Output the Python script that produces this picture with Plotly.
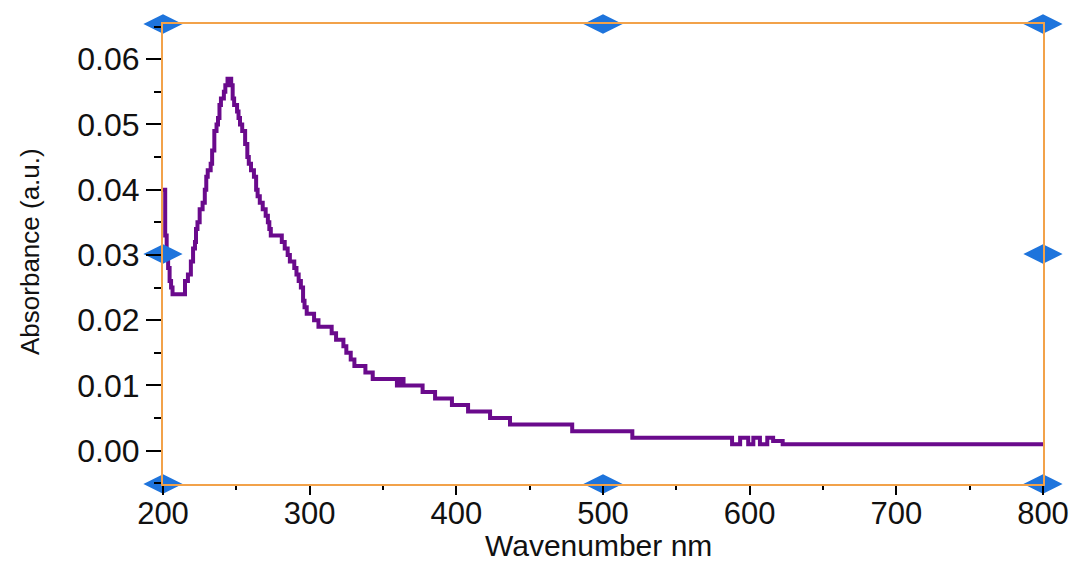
import plotly.graph_objects as go

# ---- data ----
wavelength = [200, 201.5, 202.5, 203.5, 204.5, 205.5, 206.5, 215, 217, 219, 220.5, 221.8,
              222.5, 223.5, 225, 227, 228.5, 229.5, 230.5, 232.5, 233.5, 235, 236.5, 237.5,
              238.5, 239.5, 241.5, 242.5, 244, 246.5, 247.5, 248.5, 250.5, 251.5, 252.5, 254,
              256, 257.5, 258.5, 260, 262, 263.5, 264.5, 266, 268, 270, 271.5, 272.5, 273.5,
              281, 283, 285, 286.5, 289.5, 291, 292.5, 294, 295.5, 296.5, 298, 303, 306, 315,
              318, 323, 325, 328, 330.5, 338, 343, 359.5, 360.5, 361.5, 362.5, 364, 377,
              385.5, 397, 408, 423, 436.6, 479, 520, 588, 593.5, 599, 602.5, 607, 612, 616,
              622.5, 800]
absorbance = [0.040, 0.033, 0.030, 0.028, 0.026, 0.025, 0.024, 0.026, 0.027, 0.029, 0.031, 0.032,
              0.034, 0.035, 0.037, 0.038, 0.040, 0.042, 0.043, 0.044, 0.046, 0.049, 0.050, 0.051,
              0.053, 0.054, 0.055, 0.056, 0.057, 0.056, 0.054, 0.053, 0.052, 0.051, 0.050, 0.049,
              0.047, 0.045, 0.044, 0.043, 0.042, 0.040, 0.039, 0.038, 0.037, 0.036, 0.035, 0.034, 0.033,
              0.032, 0.031, 0.030, 0.029, 0.028, 0.027, 0.026, 0.025, 0.023, 0.022, 0.021, 0.020, 0.019, 0.018,
              0.017, 0.016, 0.015, 0.014, 0.013, 0.012, 0.011, 0.010, 0.011, 0.010, 0.011, 0.010, 0.009,
              0.008, 0.007, 0.006, 0.005, 0.004, 0.003, 0.002, 0.001, 0.002, 0.001, 0.002, 0.001, 0.002, 0.0015,
              0.001, 0.001]

x_ticks = [200, 300, 400, 500, 600, 700, 800]
y_ticks = [0.00, 0.01, 0.02, 0.03, 0.04, 0.05, 0.06]
x_range = [200, 800]
y_range = [-0.0051, 0.0654]
x_title = "Wavenumber nm"
y_title = "Absorbance (a.u.)"

# selection handles (corners and mid-edges of the frame)
x_mid = (x_range[0] + x_range[1]) / 2
y_mid = (y_range[0] + y_range[1]) / 2
handle_x = [x_range[0], x_mid, x_range[1], x_range[0], x_range[1], x_range[0], x_mid, x_range[1]]
handle_y = [y_range[1], y_range[1], y_range[1], y_mid, y_mid, y_range[0], y_range[0], y_range[0]]

FONT = "Liberation Sans, Arial, sans-serif"
ORANGE = "#F2A24A"
PURPLE = "#6A0A8C"
BLUE = "#1E74DC"
TXT = "#111111"

fig = go.Figure()
fig.add_trace(go.Scatter(
    x=wavelength, y=absorbance, mode="lines",
    line=dict(color=PURPLE, width=4, shape="hv"),
    showlegend=False, hoverinfo="skip",
))
fig.add_trace(go.Scatter(
    x=handle_x, y=handle_y, mode="markers",
    marker=dict(symbol="diamond-wide", size=28, color=BLUE, line=dict(width=0)),
    cliponaxis=False, showlegend=False, hoverinfo="skip",
))

fig.update_layout(
    width=1080, height=564,
    margin=dict(l=163, r=37, t=24, b=80),
    paper_bgcolor="white", plot_bgcolor="white",
    font=dict(family=FONT, color=TXT),
)
fig.update_xaxes(
    range=x_range, tickvals=x_ticks, ticktext=[str(v) for v in x_ticks],
    automargin=False,
    showgrid=False, zeroline=False,
    showline=True, linecolor=ORANGE, linewidth=2, mirror=True,
    ticks="outside", ticklen=9, tickwidth=2, tickcolor="black",
    minor=dict(dtick=50, ticks="outside", ticklen=4, tickwidth=2, tickcolor="black"),
    tickfont=dict(size=31, family=FONT, color=TXT),
    ticklabelstandoff=-8,
)
fig.update_yaxes(
    range=y_range, tickvals=y_ticks, ticktext=[f"{v:.2f}" for v in y_ticks],
    automargin=False,
    showgrid=False, zeroline=False,
    showline=True, linecolor=ORANGE, linewidth=2, mirror=True,
    ticks="outside", ticklen=15, tickwidth=2, tickcolor="black",
    minor=dict(dtick=0.005, ticks="outside", ticklen=7, tickwidth=2, tickcolor="black"),
    tickfont=dict(size=32, family=FONT, color=TXT),
)

fig.add_annotation(
    text=x_title, xref="paper", yref="paper", x=0.5, y=0,
    xanchor="center", yanchor="bottom", xshift=-5, yshift=-79, borderpad=0, showarrow=False,
    font=dict(size=30, family=FONT, color=TXT),
)
fig.add_annotation(
    text=y_title, xref="paper", yref="paper", x=0, y=0.5,
    xanchor="center", yanchor="middle", xshift=-133, yshift=2, textangle=-90, showarrow=False,
    font=dict(size=26, family=FONT, color=TXT),
)

fig.write_html("out.html")
